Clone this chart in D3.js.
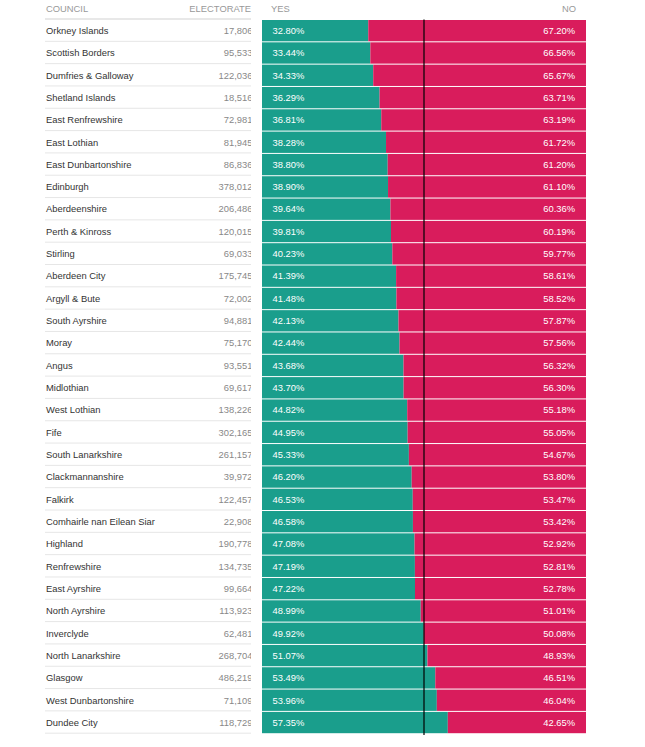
<!DOCTYPE html>
<meta charset="utf-8">
<script src="https://cdn.jsdelivr.net/npm/d3@7"></script>
<style>
body { margin: 0; background: #fff; font-family: "Liberation Sans", Arial, sans-serif; }
.hdr { fill: #999; font-size: 9.4px; }
.name { fill: #333; font-size: 9.4px; }
.elec { fill: #888; font-size: 9.4px; }
.pct { fill: #fff; font-size: 9.4px; }
</style>
<body>
<script>

// data
var councils = ["Orkney Islands", "Scottish Borders", "Dumfries & Galloway", "Shetland Islands",
  "East Renfrewshire", "East Lothian", "East Dunbartonshire", "Edinburgh", "Aberdeenshire",
  "Perth & Kinross", "Stirling", "Aberdeen City", "Argyll & Bute", "South Ayrshire", "Moray",
  "Angus", "Midlothian", "West Lothian", "Fife", "South Lanarkshire", "Clackmannanshire",
  "Falkirk", "Comhairle nan Eilean Siar", "Highland", "Renfrewshire", "East Ayrshire",
  "North Ayrshire", "Inverclyde", "North Lanarkshire", "Glasgow", "West Dunbartonshire", "Dundee City"];

var electorate = [17806, 95533, 122036, 18516, 72981, 81945, 86836, 378012, 206486, 120015,
  69033, 175745, 72002, 94881, 75170, 93551, 69617, 138226, 302165, 261157, 39972, 122457,
  22908, 190778, 134735, 99664, 113923, 62481, 268704, 486219, 71109, 118729];

var yesPct = [32.80, 33.44, 34.33, 36.29, 36.81, 38.28, 38.80, 38.90, 39.64, 39.81, 40.23, 41.39,
  41.48, 42.13, 42.44, 43.68, 43.70, 44.82, 44.95, 45.33, 46.20, 46.53, 46.58, 47.08, 47.19,
  47.22, 48.99, 49.92, 51.07, 53.49, 53.96, 57.35];

var noPct = [67.20, 66.56, 65.67, 63.71, 63.19, 61.72, 61.20, 61.10, 60.36, 60.19, 59.77, 58.61,
  58.52, 57.87, 57.56, 56.32, 56.30, 55.18, 55.05, 54.67, 53.80, 53.47, 53.42, 52.92, 52.81,
  52.78, 51.01, 50.08, 48.93, 46.51, 46.04, 42.65];

var headers = ["COUNCIL", "ELECTORATE", "YES", "NO"];

var rows = councils.map(function(c, i) {
  return {council: c, electorate: electorate[i], yes: yesPct[i], no: noPct[i]};
});

var width = 645, height = 747;
var tableLeft = 45, tableRight = 251;
var yesColor = "#1a9e8c", noColor = "#d91c5c";

var svg = d3.select("body").append("svg")
    .attr("width", width)
    .attr("height", height);

// electorate numbers get cut at the column edge
svg.append("clipPath").attr("id", "colclip")
  .append("rect")
    .attr("x", 0).attr("y", 0)
    .attr("width", tableRight).attr("height", height);

// row positions
var y = d3.scaleBand()
    .domain(councils)
    .range([19.5, 733.7]);

// percent scale for the stacked bars
var x = d3.scaleLinear()
    .domain([0, 100])
    .range([262, 586]);

var fmt = d3.format(",");
var pfmt = function(v) { return v.toFixed(2) + "%"; };

// header
svg.append("text").attr("class", "hdr").attr("x", 46).attr("y", 12).text(headers[0]);
svg.append("text").attr("class", "hdr").attr("x", tableRight).attr("y", 12)
    .attr("text-anchor", "end").text(headers[1]);
svg.append("text").attr("class", "hdr").attr("x", x(0) + 9).attr("y", 12).text(headers[2]);
svg.append("text").attr("class", "hdr").attr("x", x(100) - 10).attr("y", 12)
    .attr("text-anchor", "end").text(headers[3]);

svg.append("line")
    .attr("x1", tableLeft).attr("x2", tableRight)
    .attr("y1", 19).attr("y2", 19)
    .style("stroke", "#e8e8e8").style("stroke-width", 2);

var row = svg.selectAll(".row")
    .data(rows)
  .enter().append("g")
    .attr("class", "row")
    .attr("transform", function(d) { return "translate(0," + y(d.council) + ")"; });

// table separators
row.append("line")
    .attr("x1", tableLeft).attr("x2", tableRight)
    .attr("y1", y.bandwidth() - 0.5).attr("y2", y.bandwidth() - 0.5)
    .style("stroke", "#e6e6e6");

row.append("text")
    .attr("class", "name")
    .attr("x", 46)
    .attr("y", y.bandwidth() / 2)
    .attr("dy", "0.35em")
    .text(function(d) { return d.council; });

row.append("g")
    .attr("clip-path", "url(#colclip)")
  .append("text")
    .attr("class", "elec")
    .attr("x", tableRight + 1.5)
    .attr("y", y.bandwidth() / 2)
    .attr("dy", "0.35em")
    .attr("text-anchor", "end")
    .text(function(d) { return fmt(d.electorate); });

// bars
row.append("rect")
    .attr("x", x(0))
    .attr("y", 0.5)
    .attr("width", function(d) { return x(d.yes) - x(0); })
    .attr("height", y.bandwidth() - 1)
    .style("fill", yesColor);

row.append("rect")
    .attr("x", function(d) { return x(d.yes); })
    .attr("y", 0.5)
    .attr("width", function(d) { return x(100) - x(d.yes); })
    .attr("height", y.bandwidth() - 1)
    .style("fill", noColor);

row.append("text")
    .attr("class", "pct")
    .attr("x", x(0) + 10.5)
    .attr("y", y.bandwidth() / 2)
    .attr("dy", "0.35em")
    .text(function(d) { return pfmt(d.yes); });

row.append("text")
    .attr("class", "pct")
    .attr("x", x(100) - 11)
    .attr("y", y.bandwidth() / 2)
    .attr("dy", "0.35em")
    .attr("text-anchor", "end")
    .text(function(d) { return pfmt(d.no); });

// 50% line
svg.append("line")
    .attr("x1", x(50)).attr("x2", x(50))
    .attr("y1", 19.5).attr("y2", 735)
    .style("stroke", "#000")
    .style("stroke-width", 1.2);

</script>
</body>
